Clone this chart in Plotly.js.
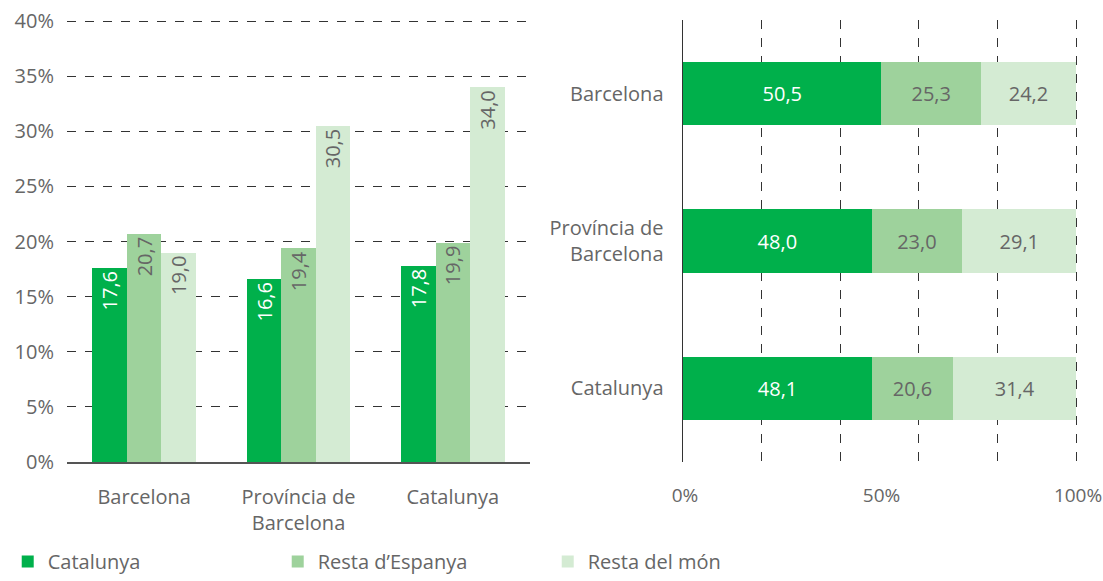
<!DOCTYPE html>
<html>
<head>
<meta charset="utf-8">
<script src="https://cdn.plot.ly/plotly-3.0.1.min.js"></script>
<style>
  html, body { margin: 0; padding: 0; background: #fff; }
  #chart { width: 1103px; height: 581px; }
</style>
</head>
<body>
<div id="chart"></div>
<script>
// ---------- Dades ----------
var groups = ['Barcelona', 'Província de<br>Barcelona', 'Catalunya'];
var seriesNames = ['Catalunya', 'Resta d\u2019Espanya', 'Resta del món'];

// Gràfic esquerre (% sobre el total)
var leftCatalunya = [17.6, 16.6, 17.8];
var leftEspanya = [20.7, 19.4, 19.9];
var leftMon = [19.0, 30.5, 34.0];

// Gràfic dret (distribució, 100%)
var rightCatalunya = [50.5, 48.0, 48.1];
var rightEspanya = [25.3, 23.0, 20.6];
var rightMon = [24.2, 29.1, 31.4];

var pctTicks = [0, 50, 100];
var pctTickText = ['0%', '50%', '100%'];

var COLORS = { dark: '#00b04b', medium: '#9ed29c', light: '#d4ebd3' };
var TEXT_GRAY = '#666666';
var FONT = '"Open Sans", "Noto Sans", sans-serif';

function fmt(v) { return v.toFixed(1).replace('.', ','); }

function leftTrace(name, values, color, textColor, group) {
    return {
        x: groups,
        y: values,
        name: name,
        type: 'bar',
        xaxis: 'x',
        yaxis: 'y',
        offsetgroup: group,
        marker: { color: color },
        text: values.map(fmt),
        textposition: 'inside',
        insidetextanchor: 'end',
        textangle: -90,
        textfont: { color: textColor, size: 20, family: FONT },
        hoverinfo: 'skip'
    };
}

function rightTrace(name, values, color, textColor) {
    return {
        x: values,
        y: groups,
        name: name,
        type: 'bar',
        orientation: 'h',
        xaxis: 'x2',
        yaxis: 'y2',
        offsetgroup: 'r',
        width: 0.43,
        showlegend: false,
        marker: { color: color },
        text: values.map(fmt),
        textposition: 'inside',
        insidetextanchor: 'middle',
        textangle: 0,
        textfont: { color: textColor, size: 20, family: FONT },
        hoverinfo: 'skip'
    };
}

var data = [
    leftTrace(seriesNames[0], leftCatalunya, COLORS.dark, '#ffffff', 'a'),
    leftTrace(seriesNames[1], leftEspanya, COLORS.medium, TEXT_GRAY, 'b'),
    leftTrace(seriesNames[2], leftMon, COLORS.light, TEXT_GRAY, 'c'),
    rightTrace(seriesNames[0], rightCatalunya, COLORS.dark, '#ffffff'),
    rightTrace(seriesNames[1], rightEspanya, COLORS.medium, TEXT_GRAY),
    rightTrace(seriesNames[2], rightMon, COLORS.light, TEXT_GRAY),
    // traça buida perquè es dibuixi l'eix d'etiquetes 0/50/100
    {
        x: pctTicks,
        y: pctTicks.map(() => groups[0]),
        type: 'scatter',
        mode: 'none',
        xaxis: 'x3',
        yaxis: 'y2',
        showlegend: false,
        hoverinfo: 'skip'
    }
];

var rightDomain = [683 / 1103, 1078.4 / 1103];
var rightRange = [0, 100.6];

var layout = {
    width: 1103,
    height: 581,
    margin: { l: 0, r: 0, t: 20, b: 115 },
    paper_bgcolor: '#ffffff',
    plot_bgcolor: '#ffffff',
    font: { family: FONT, size: 20, color: TEXT_GRAY },
    barmode: 'stack',
    bargap: 0.33,
    bargroupgap: 0,
    separators: ',.',
    showlegend: true,
    legend: {
        orientation: 'h',
        x: 0.007, xanchor: 'left',
        y: -0.226, yanchor: 'middle',
        entrywidth: 225,
        entrywidthmode: 'pixels',
        font: { size: 20, color: TEXT_GRAY },
        traceorder: 'normal'
    },
    xaxis: {
        domain: [67 / 1103, 530 / 1103],
        anchor: 'y',
        showline: true,
        linecolor: '#555555',
        linewidth: 2,
        showgrid: false,
        ticks: '',
        ticklabelstandoff: 16,
        fixedrange: true
    },
    yaxis: {
        domain: [0, 1],
        anchor: 'x',
        range: [0, 40.1],
        dtick: 5,
        ticksuffix: '%',
        showgrid: true,
        gridcolor: '#333333',
        griddash: 'dash',
        gridwidth: 1,
        zeroline: false,
        showline: false,
        ticks: '',
        ticklabelstandoff: 12,
        fixedrange: true
    },
    // rejilla cada 20% (sense etiquetes)
    xaxis2: {
        domain: rightDomain,
        anchor: 'y2',
        range: rightRange,
        tick0: 0,
        dtick: 20,
        showticklabels: false,
        showgrid: true,
        gridcolor: '#333333',
        griddash: 'dash',
        gridwidth: 1,
        zeroline: false,
        showline: false,
        ticks: '',
        fixedrange: true
    },
    // etiquetes 0% / 50% / 100%
    xaxis3: {
        domain: rightDomain,
        anchor: 'y2',
        overlaying: 'x2',
        side: 'bottom',
        range: rightRange,
        tickmode: 'array',
        tickvals: pctTicks,
        ticktext: pctTickText,
        tickfont: { size: 19 },
        showgrid: false,
        zeroline: false,
        showline: false,
        ticks: '',
        ticklabelstandoff: 20,
        ticklabelshift: 2,
        ticklabeloverflow: 'allow',
        fixedrange: true
    },
    yaxis2: {
        domain: [0, 1],
        anchor: 'x2',
        autorange: 'reversed',
        showline: true,
        linecolor: '#333333',
        linewidth: 1.5,
        showgrid: false,
        ticks: '',
        ticklabelstandoff: 14,
        fixedrange: true
    }
};

Plotly.newPlot('chart', data, layout, { displayModeBar: false, staticPlot: true });
</script>
</body>
</html>
